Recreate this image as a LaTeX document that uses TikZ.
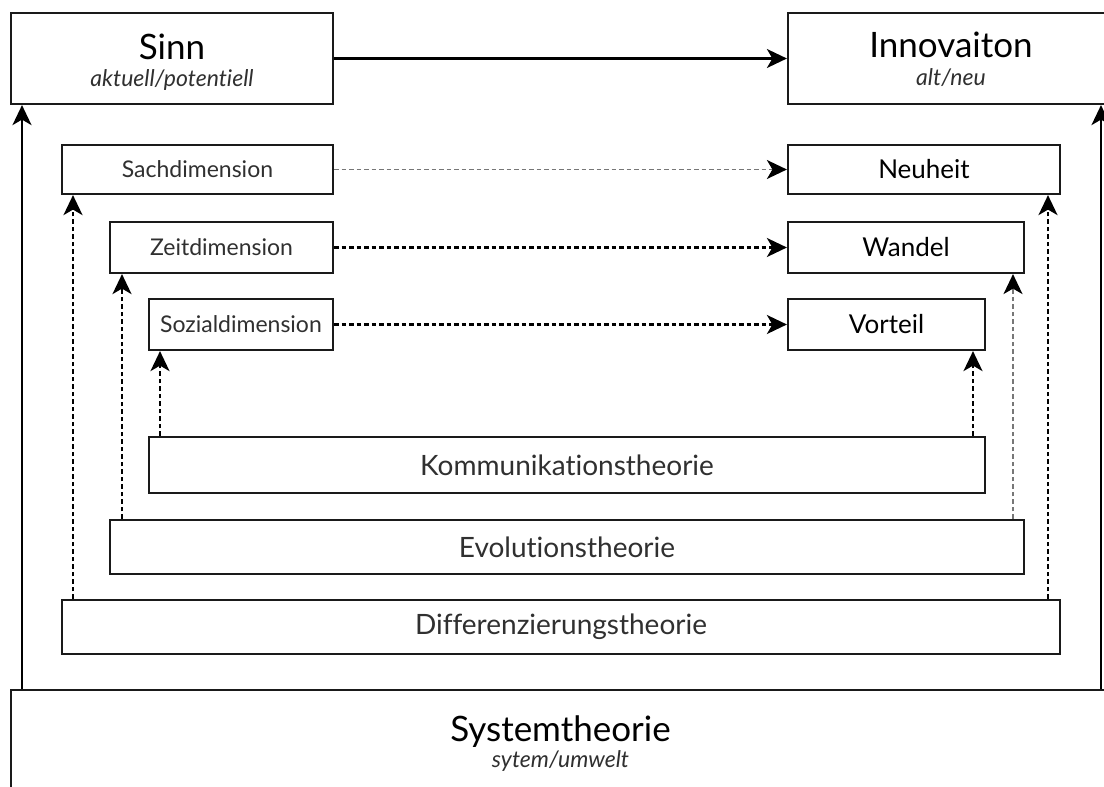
\documentclass[tikz,border=0pt]{standalone}
\usepackage{fontspec}
\setmainfont[Ligatures={NoCommon,NoRare}]{Lato}
\usetikzlibrary{arrows.meta}
\newcommand\fsz[1]{\fontsize{#1}{#1}\selectfont}
\definecolor{ink}{HTML}{1A1A1A}
\definecolor{soft}{HTML}{303030}
\definecolor{thin}{HTML}{777777}
\begin{document}
\begin{tikzpicture}[x=1pt,y=-1pt,
  box/.style={draw=ink, line width=2.2pt, inner sep=0pt, fill=white},
  tip/.style={-{Stealth[length=20pt,width=19pt,inset=5.5pt,color=black]}},
  solidarrow/.style={tip, draw=black, line width=2.1pt},
  dasharrow/.style={tip, draw=black, line width=2.2pt, dash pattern=on 4.5pt off 3pt},
  grayarrow/.style={tip, draw=thin, line width=1.7pt, dash pattern=on 4.5pt off 3pt},
  title/.style={anchor=base, text=black, font=\fsz{35}},
  subtitle/.style={anchor=base, text=soft, font=\fsz{23}\itshape},
  dimlabel/.style={text=soft, font=\fsz{23}},
  goallabel/.style={text=black, font=\fsz{26}},
  theorylabel/.style={text=soft, font=\fsz{28}},
]
\useasboundingbox (0,0) rectangle (1104,787);
\begin{scope}
\clip (0,0) rectangle (1104,787);

% top row
\node[box, minimum width=322pt, minimum height=91pt] (sinn) at (172,58.5) {};
\node[box, minimum width=324pt, minimum height=91pt] (innov) at (950,58.5) {};
\node[title] (sinnT) at (172,59) {Sinn};
\node[subtitle] (sinnS) at (172,86) {aktuell/potentiell};
\node[title] (innovT) at (951,57) {Innovaiton};
\node[subtitle] (innovS) at (951,85) {alt/neu};

% dimensions
\node[box, minimum width=271pt, minimum height=49pt, dimlabel] (sach) at (197.5,169.5) {Sachdimension};
\node[box, minimum width=223pt, minimum height=51pt, dimlabel] (zeit) at (221.5,247.5) {Zeitdimension};
\node[box, minimum width=184pt, minimum height=51pt, dimlabel] (sozial) at (241,324.5) {Sozialdimension};

% innovation aspects
\node[box, minimum width=272pt, minimum height=49pt, goallabel] (neu) at (924,169.5) {Neuheit};
\node[box, minimum width=236pt, minimum height=51pt, goallabel] (wandel) at (906,247.5) {Wandel};
\node[box, minimum width=197pt, minimum height=51pt, goallabel] (vorteil) at (886.5,324.5) {Vorteil};

% theories
\node[box, minimum width=836pt, minimum height=56pt, theorylabel] (komm) at (567,465) {Kommunikationstheorie};
\node[box, minimum width=914pt, minimum height=54pt, theorylabel] (evo) at (567,547) {Evolutionstheorie};
\node[box, minimum width=998pt, minimum height=54pt, theorylabel] (diff) at (561,627) {Differenzierungstheorie};

% system theory base
\node[box, minimum width=1099pt, minimum height=140pt] (sys) at (560.5,760) {};
\node[title] (sysT) at (560.5,741) {Systemtheorie};
\node[subtitle] (sysS) at (560.5,767) {sytem/umwelt};

% columns for the vertical connectors
\coordinate (cL) at (22,0);
\coordinate (cR) at (1101,0);
\coordinate (c1) at (73,0);
\coordinate (c2) at (122,0);
\coordinate (c3) at (160,0);
\coordinate (c4) at (973,0);
\coordinate (c5) at (1013,0);
\coordinate (c6) at (1048,0);

% horizontal connectors
\draw[solidarrow] (sinn) -- (innov);
\draw[grayarrow] (sach) -- (neu);
\draw[dasharrow] (zeit) -- (wandel);
\draw[dasharrow] (sozial) -- (vorteil);

% vertical connectors
\draw[solidarrow] (sys.north -| cL) -- (sinn.south -| cL);
\draw[solidarrow] (sys.north -| cR) -- (innov.south -| cR);
\draw[dasharrow] (diff.north -| c1) -- (sach.south -| c1);
\draw[dasharrow] (evo.north -| c2) -- (zeit.south -| c2);
\draw[dasharrow] (komm.north -| c3) -- (sozial.south -| c3);
\draw[dasharrow] (komm.north -| c4) -- (vorteil.south -| c4);
\draw[grayarrow] (evo.north -| c5) -- (wandel.south -| c5);
\draw[dasharrow] (diff.north -| c6) -- (neu.south -| c6);
\end{scope}
\end{tikzpicture}
\end{document}
